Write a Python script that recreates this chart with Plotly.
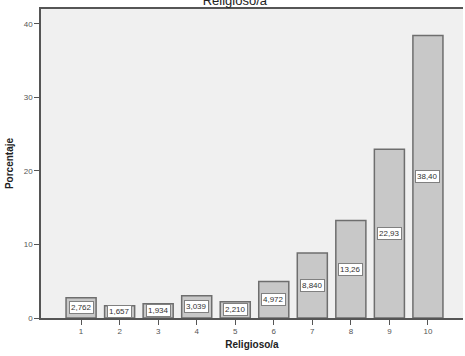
import plotly.graph_objects as go

categories = [1, 2, 3, 4, 5, 6, 7, 8, 9, 10]
values = [2.762, 1.657, 1.934, 3.039, 2.210, 4.972, 8.840, 13.26, 22.93, 38.40]
value_labels = ["2,762", "1,657", "1,934", "3,039", "2,210", "4,972", "8,840", "13,26", "22,93", "38,40"]
y_ticks = [0, 10, 20, 30, 40]

fig = go.Figure()
fig.add_trace(go.Bar(
    x=categories, y=values, width=0.78,
    marker=dict(color="#c8c8c8", line=dict(color="#6e6e6e", width=1.5)),
    hoverinfo="skip", showlegend=False,
))

for c, v, lab in zip(categories, values, value_labels):
    fig.add_annotation(
        x=c, y=v / 2, text=lab, showarrow=False,
        font=dict(family="Arial, Liberation Sans", size=8, color="#333333"),
        bgcolor="white", bordercolor="#808080", borderwidth=1, borderpad=1,
    )

fig.update_layout(
    width=465, height=356,
    margin=dict(l=41, r=2, t=9, b=38, autoexpand=False),
    paper_bgcolor="white", plot_bgcolor="#f0f0f0",
    font=dict(family="Arial, Liberation Sans", color="#444444"),
    title=dict(text="Religioso/a", x=0.505, xanchor="center", y=1.0, yanchor="middle",
               font=dict(size=13, color="#222222")),
    bargap=0.2,
)
fig.update_xaxes(
    range=[-0.04, 10.91], tickmode="array", tickvals=categories,
    ticktext=[str(c) for c in categories], ticks="outside", ticklen=5,
    tickcolor="#555555", tickfont=dict(size=8, color="#555555"),
    showline=True, linecolor="#555555", linewidth=1.5, mirror=True,
    showgrid=False, zeroline=False, automargin=False,
    title=dict(text="<b>Religioso/a</b>", font=dict(size=10, color="#222222"), standoff=6),
)
fig.update_yaxes(
    range=[0, 42], tickmode="array", tickvals=y_ticks, ticks="outside", ticklen=5,
    tickcolor="#555555", tickfont=dict(size=8, color="#555555"),
    showline=True, linecolor="#555555", linewidth=1.5,
    showgrid=False, zeroline=False, automargin=False,
    title=dict(text="<b>Porcentaje</b>", font=dict(size=10, color="#222222"), standoff=8),
)

fig.write_html("out.html", config={"displayModeBar": False},
               post_script="document.body.style.margin='0';")
